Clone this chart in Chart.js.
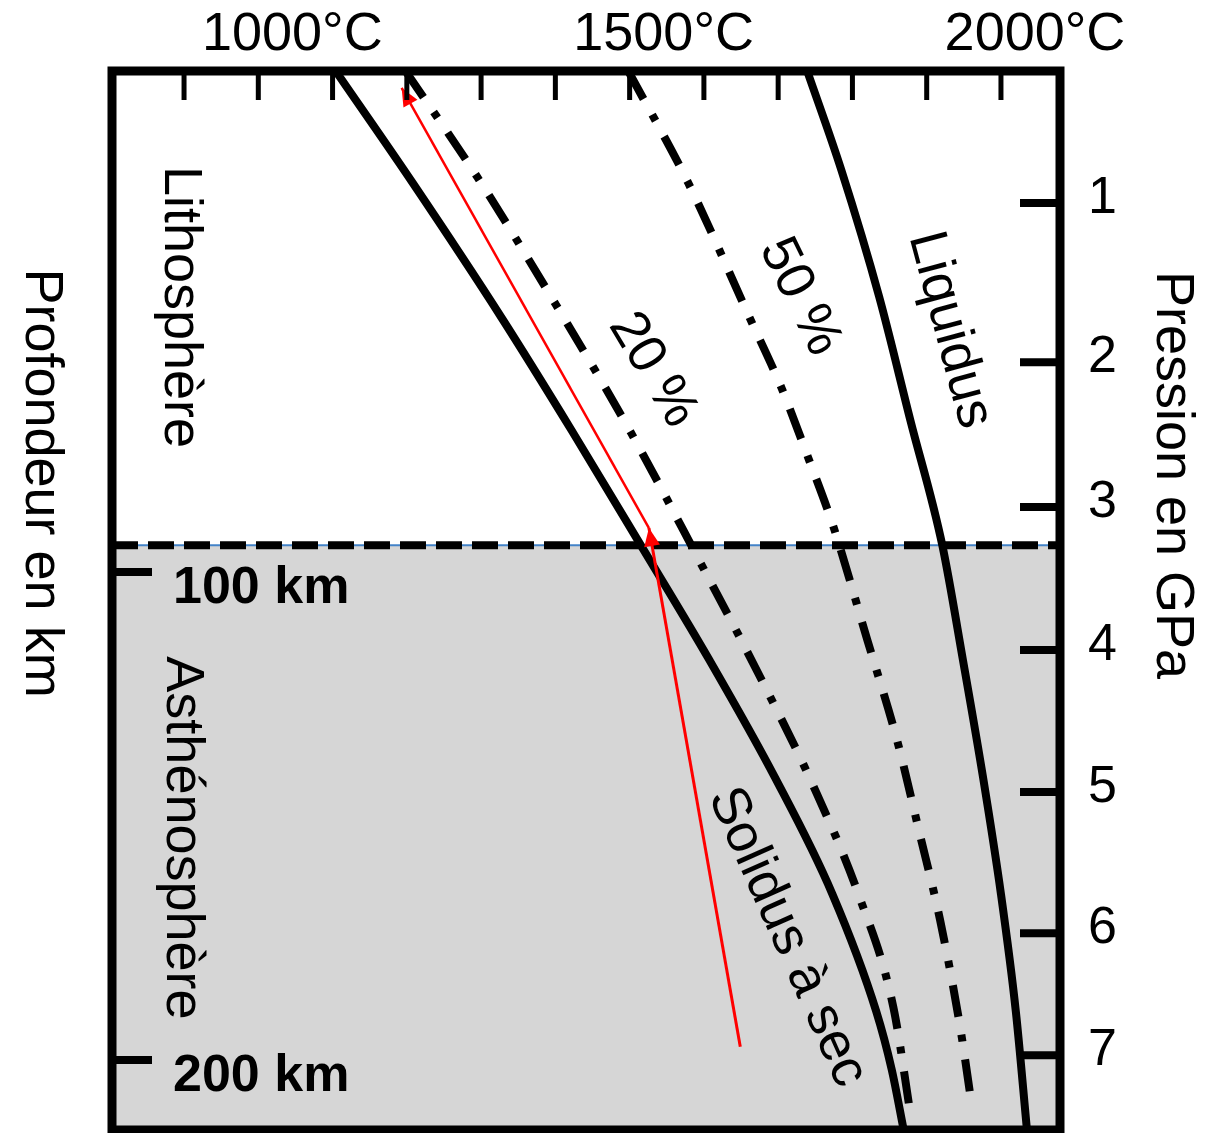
<!DOCTYPE html>
<html lang="fr">
<head>
<meta charset="utf-8">
<title>Solidus, liquidus et fusion partielle</title>
<script src="https://cdn.jsdelivr.net/npm/chart.js@4.4.1/dist/chart.umd.min.js"></script>
<style>
  html, body { margin: 0; padding: 0; background: #fff; }
  #wrap { width: 1225px; height: 1133px; position: relative; }
</style>
</head>
<body>
<div id="wrap"><canvas id="chart"></canvas></div>
<script>
// Curves: temperature (°C) against depth (km)
const solidusT   = [1104, 1208, 1328, 1422, 1515, 1608, 1696, 1773, 1832, 1853, 1869];
const solidusKm  = [-2.7, 20.3, 48.0, 71.0, 94.5, 118.2, 142.2, 166.0, 190.0, 202.0, 214.3];

const melt20T    = [1198, 1295, 1401, 1502, 1595, 1673, 1746, 1809, 1855, 1879];
const melt20Km   = [-2.7, 19.1, 45.3, 71.5, 98.0, 120.7, 143.4, 166.4, 189.1, 211.9];

const melt50T    = [1498, 1579, 1661, 1704, 1740, 1775, 1820, 1860, 1891, 1918, 1945, 1961];
const melt50Km   = [-2.7, 20.3, 47.7, 62.1, 76.4, 91.0, 113.9, 134.4, 153.9, 171.3, 193.2, 209.6];

const liquidusT  = [1739, 1785, 1836, 1878, 1921, 1949, 1976, 2000, 2020, 2035];
const liquidusKm = [-2.7, 17.6, 43.6, 68.9, 94.5, 118.2, 142.2, 166.0, 190.0, 214.3];

// red path of the rising mantle
const ascentLowT  = [1649, 1526];
const ascentLowKm = [197.3, 91.0];
const ascentUpT   = [1526, 1193];
const ascentUpKm  = [91.0, 0.8];

// lithosphere / asthenosphere boundary
const lithoBaseKm = 94.5;

// axes
const tempTicks    = [900, 1000, 1100, 1200, 1300, 1400, 1500, 1600, 1700, 1800, 1900, 2000];
const tempLabelled = [1000, 1500, 2000];
const depthTicks   = [100, 200];
const pressureGPa  = [1, 2, 3, 4, 5, 6, 7];
const pressureKm   = [24.4, 57.0, 86.7, 116.0, 145.1, 174.0, 199.0];

const T_MIN = 803, T_MAX = 2079.5;
const KM_MIN = -2.66, KM_MAX = 214.34;

const FONT = '"Liberation Sans", Arial, sans-serif';
const BLACK = '#000000';

function pts(xs, ys) {
    return xs.map((x, i) => ({ x: x, y: ys[i] }));
}

function curve(label, xs, ys, dash, order) {
    return {
        label: label,
        data: pts(xs, ys),
        borderColor: BLACK,
        borderWidth: 8,
        borderDash: dash,
        pointRadius: 0,
        cubicInterpolationMode: 'monotone',
        fill: false,
        clip: 0,
        order: order
    };
}

const dashDot = [32, 18, 7, 18];

// in-plot labels, anchored in data units
const notes = [
    { text: 'Lithosphère',   t: 895,  km: 45.7,  rot: 90 },
    { text: 'Asthénosphère', t: 897,  km: 154.5, rot: 90 },
    { text: '20 %',          t: 1531, km: 58.6,  rot: 59 },
    { text: '50 %',          t: 1729, km: 43.6,  rot: 64 },
    { text: 'Liquidus',      t: 1931, km: 50.4,  rot: 75 },
    { text: 'Solidus à sec', t: 1712, km: 174.8, rot: 66 }
];

function noPad(s) {
    s.paddingTop = 0; s.paddingBottom = 0; s.paddingLeft = 0; s.paddingRight = 0;
}

// inward ticks, frame, arrowheads and free text
const decor = {
    id: 'decor',
    afterDraw(chart) {
        const { ctx, chartArea: a, scales } = chart;
        const x = scales.x, y = scales.y;
        ctx.save();

        // arrowheads on the red path
        chart.data.datasets.forEach((ds, i) => {
            if (!ds.arrow) return;
            const els = chart.getDatasetMeta(i).data;
            const p = els[els.length - 1], q = els[els.length - 2];
            const ang = Math.atan2(p.y - q.y, p.x - q.x);
            ctx.save();
            ctx.translate(p.x, p.y);
            ctx.rotate(ang);
            ctx.beginPath();
            ctx.moveTo(0, 0);
            ctx.lineTo(-18, -8);
            ctx.lineTo(-18, 8);
            ctx.closePath();
            ctx.fillStyle = ds.borderColor;
            ctx.fill();
            ctx.restore();
        });

        ctx.strokeStyle = BLACK;
        ctx.lineCap = 'butt';

        // top ticks (temperature)
        ctx.lineWidth = 5;
        tempTicks.forEach(v => {
            const px = x.getPixelForValue(v);
            ctx.beginPath();
            ctx.moveTo(px, a.top);
            ctx.lineTo(px, a.top + 29);
            ctx.stroke();
        });

        // left ticks (depth) and right ticks (pressure)
        ctx.lineWidth = 8;
        depthTicks.forEach(v => {
            const py = y.getPixelForValue(v);
            ctx.beginPath();
            ctx.moveTo(a.left, py);
            ctx.lineTo(a.left + 40, py);
            ctx.stroke();
        });
        pressureKm.forEach(v => {
            const py = scales.yp.getPixelForValue(v);
            ctx.beginPath();
            ctx.moveTo(a.right, py);
            ctx.lineTo(a.right - 40, py);
            ctx.stroke();
        });

        // frame
        ctx.lineWidth = 9;
        ctx.lineJoin = 'miter';
        ctx.strokeRect(a.left, a.top, a.right - a.left, a.bottom - a.top);

        // text
        ctx.fillStyle = BLACK;
        ctx.textAlign = 'center';
        ctx.textBaseline = 'middle';
        ctx.font = '54px ' + FONT;
        notes.forEach(n => {
            ctx.save();
            ctx.translate(x.getPixelForValue(n.t), y.getPixelForValue(n.km));
            ctx.rotate(n.rot * Math.PI / 180);
            ctx.fillText(n.text, 0, 0);
            ctx.restore();
        });

        // axis titles, both read top to bottom
        [['Profondeur en km', a.left - 71, 483], ['Pression en GPa', a.right + 112, 475]].forEach(t => {
            ctx.save();
            ctx.translate(t[1], t[2]);
            ctx.rotate(Math.PI / 2);
            ctx.fillText(t[0], 0, 0);
            ctx.restore();
        });

        ctx.restore();
    }
};

const ctx = document.getElementById('chart').getContext('2d');
new Chart(ctx, {
    type: 'line',
    data: {
        datasets: [
            {
                label: 'remontée',
                data: pts(ascentUpT, ascentUpKm),
                borderColor: '#ff0000', borderWidth: 2.5,
                pointRadius: 0, tension: 0, fill: false, clip: 0,
                arrow: true, order: 1
            },
            {
                label: 'remontée profonde',
                data: pts(ascentLowT, ascentLowKm),
                borderColor: '#ff0000', borderWidth: 3,
                pointRadius: 0, tension: 0, fill: false, clip: 0,
                arrow: true, order: 2
            },
            curve('Solidus à sec', solidusT, solidusKm, [], 3),
            curve('20 %', melt20T, melt20Km, dashDot, 4),
            curve('50 %', melt50T, melt50Km, dashDot, 5),
            curve('Liquidus', liquidusT, liquidusKm, [], 6),
            {
                label: 'limite',
                data: pts([T_MIN, T_MAX], [lithoBaseKm, lithoBaseKm]),
                borderColor: BLACK, borderWidth: 8, borderDash: [26, 10],
                pointRadius: 0, fill: false, clip: 0, order: 7
            },
            {
                label: 'limite (trait)',
                data: pts([T_MIN, T_MAX], [lithoBaseKm, lithoBaseKm]),
                borderColor: '#4383c8', borderWidth: 2,
                pointRadius: 0, fill: false, clip: 0, order: 8
            },
            {
                label: 'asthénosphère',
                data: pts([T_MIN, T_MAX], [lithoBaseKm, lithoBaseKm]),
                borderWidth: 0, backgroundColor: '#d6d6d6',
                pointRadius: 0, fill: 'start', clip: 0, order: 9
            }
        ]
    },
    options: {
        responsive: true,
        maintainAspectRatio: false,
        animation: false,
        layout: { padding: 0 },
        plugins: {
            legend: { display: false },
            tooltip: { enabled: false }
        },
        scales: {
            x: {
                type: 'linear', position: 'top', min: T_MIN, max: T_MAX,
                afterBuildTicks: s => { s.ticks = tempTicks.map(v => ({ value: v })); },
                afterFit: s => { s.height = 71; noPad(s); },
                grid: { display: false },
                border: { display: false },
                ticks: {
                    z: 1,
                    autoSkip: false, maxRotation: 0, minRotation: 0,
                    padding: -5, labelOffset: 34, color: BLACK,
                    font: { family: FONT, size: 54 },
                    callback: v => tempLabelled.includes(v) ? v + '°C' : ''
                }
            },
            xb: {
                type: 'linear', position: 'bottom', min: T_MIN, max: T_MAX,
                afterFit: s => { s.height = 3; noPad(s); },
                grid: { display: false },
                border: { display: false },
                ticks: { display: false }
            },
            y: {
                type: 'linear', position: 'left', reverse: true, min: KM_MIN, max: KM_MAX,
                afterBuildTicks: s => { s.ticks = depthTicks.map(v => ({ value: v })); },
                afterFit: s => { s.width = 112; noPad(s); },
                grid: { display: false },
                border: { display: false },
                ticks: {
                    z: 1,
                    mirror: true, padding: 61, labelOffset: 17, color: BLACK,
                    font: { family: FONT, size: 52, weight: 'bold' },
                    callback: v => v + ' km'
                }
            },
            yp: {
                type: 'linear', position: 'right', reverse: true, min: KM_MIN, max: KM_MAX,
                afterBuildTicks: s => { s.ticks = pressureKm.map(v => ({ value: v })); },
                afterFit: s => { s.width = 165; noPad(s); },
                grid: { display: false },
                border: { display: false },
                ticks: {
                    z: 1,
                    padding: 20, labelOffset: -4, color: BLACK,
                    font: { family: FONT, size: 52 },
                    callback: (v, i) => pressureGPa[i]
                }
            }
        }
    },
    plugins: [decor]
});
</script>
</body>
</html>
